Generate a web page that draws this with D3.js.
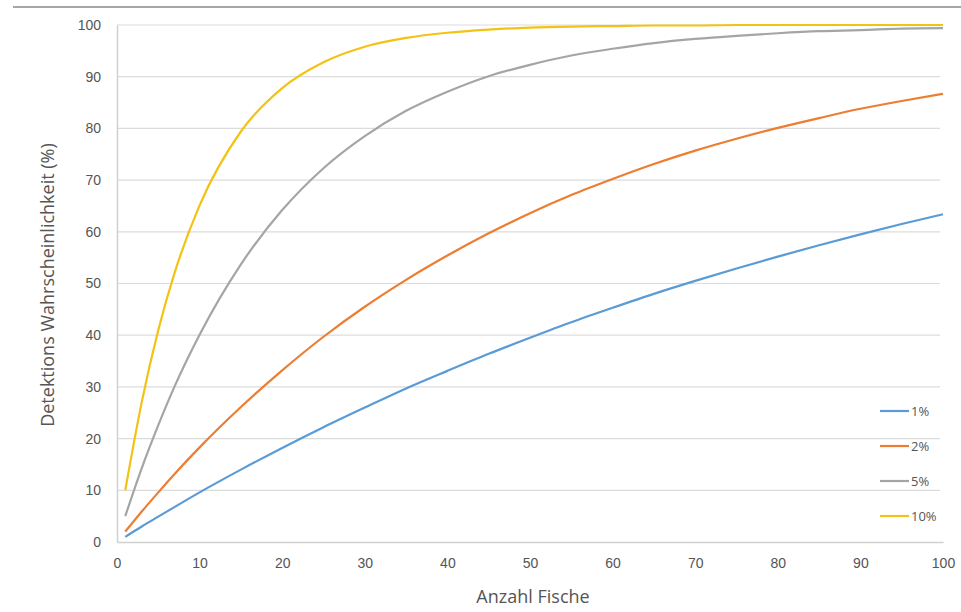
<!DOCTYPE html>
<html><head><meta charset="utf-8">
<script src="https://cdn.jsdelivr.net/npm/d3@7/dist/d3.min.js"></script>
<style>body{margin:0;background:#fff;}svg{display:block;font-family:"Open Sans","DejaVu Sans",sans-serif;}</style>
</head><body><svg id="c" width="961" height="612"></svg>
<script>
const fishCounts = [1,3,5,7,10,15,20,25,30,35,40,45,50,55,60,65,70,75,80,85,90,95,100];
const seriesNames = ["1%","2%","5%","10%"];
const p1  = [1,3,4.9,6.8,9.6,14,18.2,22.2,26,29.7,33.1,36.4,39.5,42.5,45.3,48,50.5,52.9,55.2,57.4,59.5,61.5,63.4];
const p2  = [2,5.9,9.6,13.2,18.3,26.1,33.2,39.7,45.5,50.7,55.4,59.7,63.6,67.1,70.2,73.1,75.7,78,80.1,82,83.8,85.3,86.7];
const p5  = [5,14.3,22.6,30.2,40.1,53.7,64.2,72.3,78.5,83.4,87.1,90.1,92.3,94.1,95.4,96.5,97.3,97.9,98.4,98.8,99,99.3,99.4];
const p10 = [10,27.1,41,52.2,65.1,79.4,87.8,92.8,95.8,97.5,98.5,99.1,99.5,99.7,99.8,99.9,99.9,100,100,100,100,100,100];
const seriesColors = ["#5b9bd5","#ed7d31","#a5a5a5","#f2c314"];
const xTicks = [0,10,20,30,40,50,60,70,80,90,100];
const yTicks = [0,10,20,30,40,50,60,70,80,90,100];

const svg = d3.select("#c");
const x = d3.scaleLinear().domain([0,100]).range([117,943]);
const y = d3.scaleLinear().domain([0,100]).range([542,25]);

// top border
svg.append("line").attr("x1",13).attr("x2",961).attr("y1",7).attr("y2",7)
  .attr("stroke","#a6a6a6").attr("stroke-width",2);

// gridlines
svg.append("g").selectAll("line").data(yTicks.filter(d=>d>0)).join("line")
  .attr("x1",x(0)).attr("x2",x(100)-3).attr("y1",d=>y(d)).attr("y2",d=>y(d))
  .attr("stroke","#dcdcdc").attr("stroke-width",1.2);

// axes
const yAxis = d3.axisLeft(y).tickValues(yTicks).tickSize(0).tickPadding(16);
const gy = svg.append("g").attr("transform",`translate(${x(0)},0)`).call(yAxis);
gy.select(".domain").attr("stroke","#d0d0d0").attr("stroke-width",1.5);
gy.selectAll("text").attr("fill","#555").style("font-size","14px");

const xAxis = d3.axisBottom(x).tickValues(xTicks).tickSize(0).tickPadding(16);
const gx = svg.append("g").attr("transform",`translate(0,${y(0)})`).call(xAxis);
gx.select(".domain").attr("stroke","#d0d0d0").attr("stroke-width",1.5);
gx.selectAll("text").attr("fill","#555").style("font-size","14px");

// lines
const all = [p1,p2,p5,p10];
const line = d3.line().x((d,i)=>x(fishCounts[i])).y(d=>y(d)).curve(d3.curveMonotoneX);
svg.append("g").selectAll("path").data(all).join("path")
  .attr("d",d=>line(d)).attr("fill","none")
  .attr("stroke",(d,i)=>seriesColors[i]).attr("stroke-width",2.2);

// legend
const lg = svg.append("g").selectAll("g").data(seriesNames).join("g")
  .attr("transform",(d,i)=>`translate(880,${411+i*35})`);
lg.append("line").attr("x1",0).attr("x2",29).attr("y1",0).attr("y2",0)
  .attr("stroke",(d,i)=>seriesColors[i]).attr("stroke-width",2.2);
lg.append("text").attr("x",31).attr("y",0).attr("dy","0.35em")
  .attr("fill","#555").style("font-size","13px").text(d=>d);

// titles
svg.append("text").attr("x",533).attr("y",603).attr("text-anchor","middle")
  .attr("fill","#555").style("font-size","18px").text("Anzahl Fische");
svg.append("text").attr("transform","translate(54,285) rotate(-90)").attr("text-anchor","middle")
  .attr("fill","#555").style("font-size","18px").text("Detektions Wahrscheinlichkeit (%)");
</script></body></html>
